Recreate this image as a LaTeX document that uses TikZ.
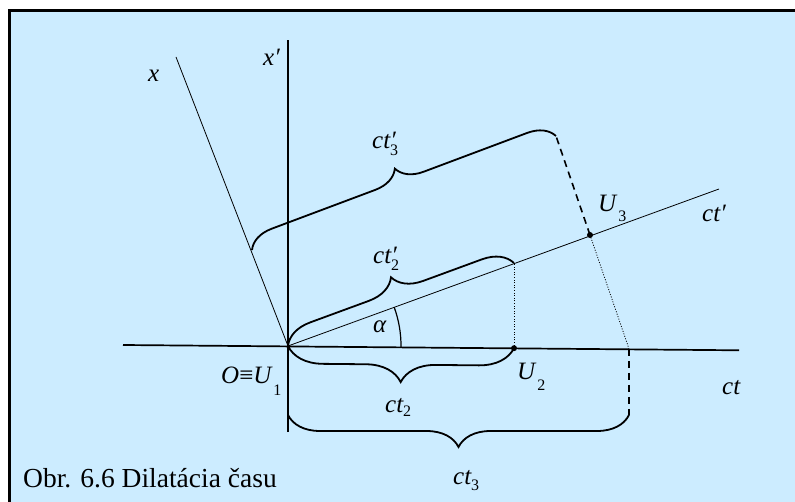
\documentclass[tikz,border=0pt]{standalone}
\usepackage{fontspec}
\setmainfont{Liberation Serif}
\usetikzlibrary{decorations.pathreplacing}
\definecolor{paneblue}{RGB}{204,236,255}
\tikzset{
  axthick/.style={line width=1.7pt},
  axthin/.style={line width=0.8pt},
  brc/.style={decorate, decoration={brace, amplitude=#1}, line width=1.8pt},
  guide/.style={dash pattern=on 1pt off 1.6pt, line width=0.8pt},
  drop/.style={dash pattern=on 7pt off 5pt, line width=1.6pt},
  lbl/.style={anchor=base west, inner sep=0pt, font=\fontsize{25}{28}\selectfont\itshape},
  dot/.style={circle, fill=black, inner sep=0pt, minimum size=6pt},
}
\newcommand{\lidx}[2][6pt]{\raisebox{-#1}{\upshape\fontsize{16}{16}\selectfont #2}}

\begin{document}
\begin{tikzpicture}[x=1pt, y=-1pt]
    \useasboundingbox (0,0) rectangle (795,502);
    \fill[white] (0,0) rectangle (795,502);
    \draw[fill=paneblue, line width=2.5pt] (9.5,10.5) rectangle (812,515);

    \coordinate (O) at (288,346);
    \coordinate (ctL) at (123,345);
    \coordinate (ctR) at (739,350.3);
    \coordinate (xpT) at (288,40);
    \coordinate (xpB) at (288,432);
    \coordinate (xT) at (176,57);
    \coordinate (cpR) at (719,189);
    \coordinate (U2) at (514,348.2);
    \coordinate (Q2) at (514,263);
    \coordinate (U3) at (590,235);
    \coordinate (A) at (252,250);
    \coordinate (B) at (556,136);
    \coordinate (C) at (629,348.8);
    \coordinate (D) at (629,415);
    \coordinate (E) at (288,415);

    \draw[axthick] (ctL) -- (ctR);
    \draw[axthick] (xpB) -- (xpT);
    \draw[axthin] (O) -- (xT);
    \draw[axthin] (O) -- (cpR);
    \draw[line width=1.2pt] (O) ++(113,0.9) arc[start angle=-0.5, end angle=20, radius=113pt];

    \draw[guide] (U2) -- (Q2);
    \draw[guide] (U3) -- (C);
    \draw[drop] (U3) -- (B);
    \draw[drop] (C) -- (D);

    \draw[brc=26pt] (A) -- (B);
    \draw[brc=29pt] (O) -- (Q2);
    \draw[brc=35pt] (U2) -- (O);
    \draw[brc=32pt] (D) -- (E);

    \node[dot] (dU2) at (U2) {};
    \node[dot] (dU3) at (U3) {};

    \node[lbl] (lx) at (148,82) {x};
    \node[lbl] (lxp) at (263,66) {x′};
    \node[lbl] (lct3p) at (372,149) {ct\rlap{′}\lidx[7pt]{3}};
    \node[lbl] (lct2p) at (373,264) {ct\rlap{′}\lidx[7pt]{2}};
    \node[lbl] (lU3) at (598,212) {U\hspace{2pt}\lidx[10pt]{3}};
    \node[lbl] (lctp) at (702,222) {ct′};
    \node[lbl] (lal) at (373,333) {α};
    \node[lbl] (lO) at (221,384) {O\upshape≡\itshape U\hspace{2pt}\lidx[12pt]{1}};
    \node[lbl] (lU2) at (517,380) {U\hspace{2pt}\lidx[11pt]{2}};
    \node[lbl] (lct) at (722,395) {ct};
    \node[lbl] (lct2) at (385,412) {ct\lidx[5pt]{2}};
    \node[lbl] (lct3) at (453,484) {ct\lidx[6pt]{3}};
    \node[anchor=base west, inner sep=0pt, font=\fontsize{27.5}{30}\selectfont] (cap) at (23,487) {Obr. 6.6 Dilatácia času};
\end{tikzpicture}
\end{document}
